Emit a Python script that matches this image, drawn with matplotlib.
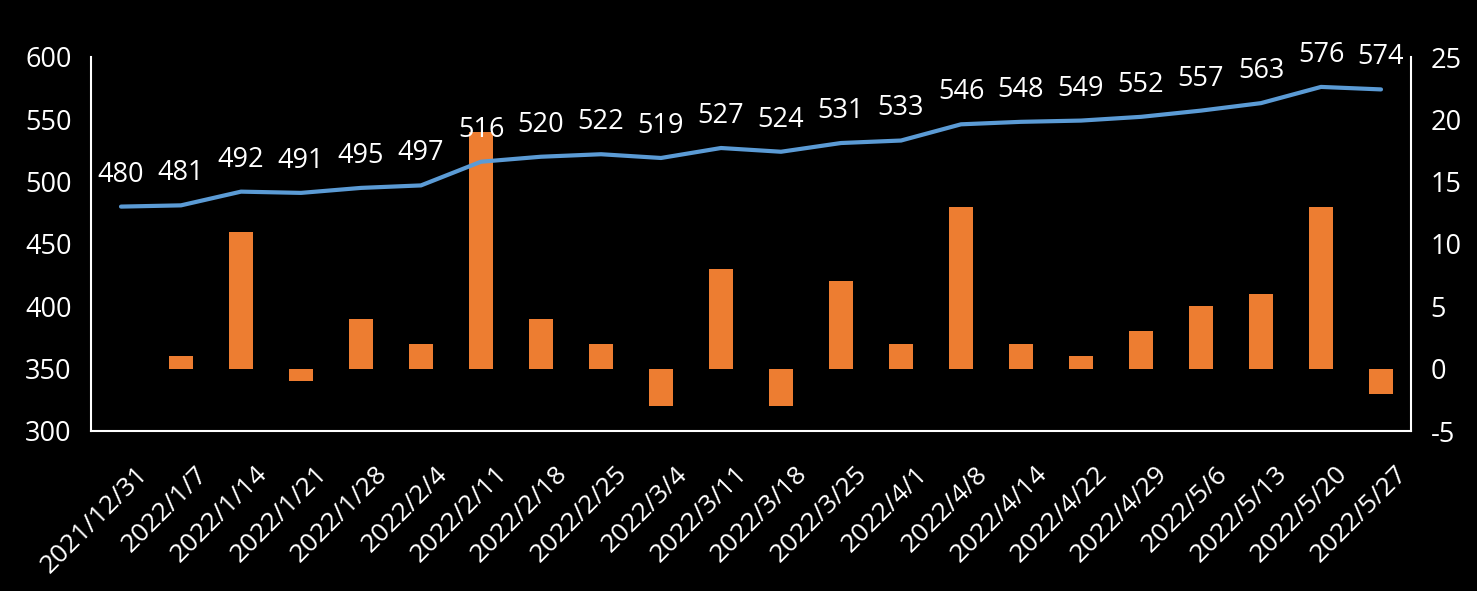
import matplotlib.pyplot as plt
import matplotlib.transforms as mtransforms
import numpy as np

dates = ['2021/12/31', '2022/1/7', '2022/1/14', '2022/1/21', '2022/1/28', '2022/2/4',
         '2022/2/11', '2022/2/18', '2022/2/25', '2022/3/4', '2022/3/11', '2022/3/18',
         '2022/3/25', '2022/4/1', '2022/4/8', '2022/4/14', '2022/4/22', '2022/4/29',
         '2022/5/6', '2022/5/13', '2022/5/20', '2022/5/27']
totals = [480, 481, 492, 491, 495, 497, 516, 520, 522, 519, 527, 524,
          531, 533, 546, 548, 549, 552, 557, 563, 576, 574]
changes = [0, 1, 11, -1, 4, 2, 19, 4, 2, -3, 8, -3,
           7, 2, 13, 2, 1, 3, 5, 6, 13, -2]

plt.rcParams['font.family'] = ['Open Sans', 'DejaVu Sans']
plt.rcParams['axes.unicode_minus'] = False

fig = plt.figure(figsize=(14.77, 5.91), dpi=100, facecolor='black')
ax = fig.add_axes([91 / 1477, 1 - 431 / 591, 1320 / 1477, 374 / 591])
ax.set_facecolor('black')
ax2 = ax.twinx()

x = np.arange(len(dates))
ax2.bar(x, changes, width=0.4, color='#ED7D31', zorder=2)
ax.plot(x, totals, color='#5B9BD5', lw=3, solid_capstyle='round', zorder=3)
ax.set_zorder(ax2.get_zorder() + 1)
ax.patch.set_visible(False)

for xi, v in zip(x, totals):
    ax.annotate(str(v), (xi, v), xytext=(0, 13), textcoords='offset points',
                ha='center', va='bottom', color='white', fontsize=19.5)

ax.set_xlim(-0.5, len(dates) - 0.5)
ax.set_ylim(300, 600)
ax.set_yticks(range(300, 601, 50))
ax2.set_ylim(-5, 25)
ax2.set_yticks(range(-5, 26, 5))

ax.set_xticks(x)
ax.set_xticklabels(dates, rotation=45, ha='right', rotation_mode='anchor')

for a in (ax, ax2):
    a.tick_params(colors='white', length=0, labelsize=19.5, pad=14)
    for s in a.spines.values():
        s.set_visible(False)
ax.tick_params(axis='x', labelsize=19, pad=22)
shift = mtransforms.ScaledTranslation(14 / 100, 0, fig.dpi_scale_trans)
for lbl in ax.get_xticklabels():
    lbl.set_transform(lbl.get_transform() + shift)
ax.spines['left'].set_visible(True)
ax.spines['bottom'].set_visible(True)
ax2.spines['right'].set_visible(True)
for s in (ax.spines['left'], ax.spines['bottom'], ax2.spines['right']):
    s.set_color('white')
    s.set_linewidth(1.5)

fig.savefig('out.png', dpi=100, facecolor='black')
